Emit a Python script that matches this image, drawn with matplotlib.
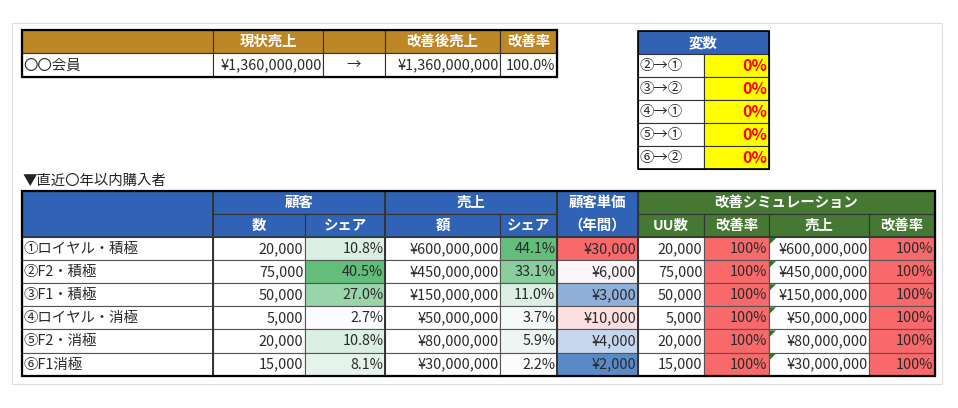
import matplotlib.pyplot as plt
from matplotlib.patches import Rectangle, Polygon
from matplotlib.colors import LinearSegmentedColormap, Normalize

plt.rcParams['font.family'] = ['Noto Sans CJK JP', 'DejaVu Sans']

# ---- data ----
top_label = '〇〇会員'
top_cols = ['現状売上', '', '改善後売上', '改善率']
current_sales = 1360000000
improved_sales = 1360000000
improve_rate = 100.0

var_labels = ['②→①', '③→②', '④→①', '⑤→①', '⑥→②']
var_values = [0, 0, 0, 0, 0]

segments = ['①ロイヤル・積極', '②F2・積極', '③F1・積極', '④ロイヤル・消極', '⑤F2・消極', '⑥F1消極']
customers = [20000, 75000, 50000, 5000, 20000, 15000]
customer_share = [10.8, 40.5, 27.0, 2.7, 10.8, 8.1]
sales = [600000000, 450000000, 150000000, 50000000, 80000000, 30000000]
sales_share = [44.1, 33.1, 11.0, 3.7, 5.9, 2.2]
unit_price = [30000, 6000, 3000, 10000, 4000, 2000]
sim_uu = [20000, 75000, 50000, 5000, 20000, 15000]
sim_rate = [100, 100, 100, 100, 100, 100]
sim_sales = [600000000, 450000000, 150000000, 50000000, 80000000, 30000000]
sim_sales_rate = [100, 100, 100, 100, 100, 100]

# ---- colours ----
GOLD = '#BD8727'
BLUE = '#3063B5'
GREEN = '#457832'
RED = '#F8696B'
YELLOW = '#FFFF00'
green_scale = LinearSegmentedColormap.from_list('g', ['#FCFCFF', '#63BE7B'])
price_scale = LinearSegmentedColormap.from_list('p', ['#5A8AC6', '#FCFCFF', '#F8696B'])

fig = plt.figure(figsize=(9.58, 4.08), dpi=100)
ax = fig.add_axes([0, 0, 1, 1])
ax.set_xlim(0, 958)
ax.set_ylim(408, 0)
ax.axis('off')

FS = 10.4


def cell(x0, x1, y0, y1, fc='white', text='', ha='right', color='#2A2A2A',
         weight='normal', ec='#555555', lw=0.8, size=FS):
    ax.add_patch(Rectangle((x0, y0), x1 - x0, y1 - y0, facecolor=fc,
                           edgecolor=ec, linewidth=lw))
    if text:
        if ha == 'right':
            tx = x1 - 1.5
        elif ha == 'left':
            tx = x0 + 1.5
        else:
            tx = (x0 + x1) / 2
        ax.text(tx, (y0 + y1) / 2 + 0.5, text, ha=ha, va='center',
                color=color, fontsize=size, fontweight=weight)


def yen(v):
    return '¥{:,}'.format(v)


def border(x0, x1, y0, y1, lw=1.6):
    ax.add_patch(Rectangle((x0, y0), x1 - x0, y1 - y0, fill=False,
                           edgecolor='black', linewidth=lw, zorder=5))


# faint frame
ax.add_patch(Rectangle((12, 23), 930, 361, fill=False, edgecolor='#DDDDDD', linewidth=0.8))

# ---- top table ----
tx = [22, 213, 323, 385, 500, 557]
ty = [30, 53, 77]
cell(tx[0], tx[1], ty[0], ty[1], GOLD, ec='#333333')
for i, c in enumerate(top_cols):
    cell(tx[i + 1], tx[i + 2], ty[0], ty[1], GOLD, c, ha='center', color='white',
         weight='bold', ec='#333333')
row = [(top_label, 'left'), (yen(current_sales), 'right'), ('→', 'center'),
       (yen(improved_sales), 'right'), ('{:.1f}%'.format(improve_rate), 'right')]
for i, (t, h) in enumerate(row):
    cell(tx[i], tx[i + 1], ty[1], ty[2], 'white', t, ha=h, ec='#333333')
border(tx[0], tx[-1], ty[0], ty[-1])

# ---- variable table ----
vx = [638, 704, 769]
vy0 = 31
cell(vx[0], vx[2], vy0, vy0 + 23, BLUE, '変数', ha='center', color='white',
     weight='bold', ec='#333333')
for i, (lab, v) in enumerate(zip(var_labels, var_values)):
    y0 = vy0 + 23 * (i + 1)
    cell(vx[0], vx[1], y0, y0 + 23, 'white', lab, ha='left', ec='#333333')
    cell(vx[1], vx[2], y0, y0 + 23, YELLOW, '{}%'.format(v), color='#FF0000',
         weight='bold', ec='#333333', size=11.5)
border(vx[0], vx[2], vy0, vy0 + 23 * 6, lw=1.2)

# ---- main table ----
ax.text(23, 181, '▼直近〇年以内購入者', ha='left', va='center', fontsize=FS, color='#222222')

mx = [22, 213, 305, 385, 500, 557, 638, 704, 769, 869, 935]
h0, h1, h2 = 191, 214, 237
rh = 23.1

cell(mx[0], mx[1], h0, h2, BLUE, ec='#333333')
cell(mx[1], mx[3], h0, h1, BLUE, '顧客', ha='center', color='white', weight='bold', ec='#333333')
cell(mx[3], mx[5], h0, h1, BLUE, '売上', ha='center', color='white', weight='bold', ec='#333333')
cell(mx[5], mx[6], h0, h2, BLUE, ec='#333333')
ax.text((mx[5] + mx[6]) / 2, (h0 + h1) / 2 + 0.5, '顧客単価', ha='center', va='center',
        color='white', fontsize=FS, fontweight='bold')
ax.text((mx[5] + mx[6]) / 2, (h1 + h2) / 2 + 0.5, '（年間）', ha='center', va='center',
        color='white', fontsize=FS, fontweight='bold')
cell(mx[6], mx[10], h0, h1, GREEN, '改善シミュレーション', ha='center', color='white',
     weight='bold', ec='#333333')
sub = ['数', 'シェア', '額', 'シェア']
for i, s in enumerate(sub):
    cell(mx[i + 1], mx[i + 2], h1, h2, BLUE, s, ha='center', color='white',
         weight='bold', ec='#333333')
sim_sub = ['UU数', '改善率', '売上', '改善率']
for i, s in enumerate(sim_sub):
    cell(mx[i + 6], mx[i + 7], h1, h2, GREEN, s, ha='center', color='white',
         weight='bold', ec='#333333')

cs_norm = Normalize(min(customer_share), max(customer_share))
ss_norm = Normalize(min(sales_share), max(sales_share))
lo, mid, hi = min(unit_price), sorted(unit_price)[2:4], max(unit_price)
med = sum(mid) / 2


def price_pos(v):
    if v <= med:
        return 0.5 * (v - lo) / (med - lo)
    return 0.5 + 0.5 * (v - med) / (hi - med)


for r in range(len(segments)):
    y0 = h2 + rh * r
    y1 = y0 + rh
    cell(mx[0], mx[1], y0, y1, 'white', segments[r], ha='left')
    cell(mx[1], mx[2], y0, y1, 'white', '{:,}'.format(customers[r]))
    cell(mx[2], mx[3], y0, y1, green_scale(cs_norm(customer_share[r])),
         '{:.1f}%'.format(customer_share[r]))
    cell(mx[3], mx[4], y0, y1, 'white', yen(sales[r]))
    cell(mx[4], mx[5], y0, y1, green_scale(ss_norm(sales_share[r])),
         '{:.1f}%'.format(sales_share[r]))
    cell(mx[5], mx[6], y0, y1, price_scale(price_pos(unit_price[r])), yen(unit_price[r]))
    cell(mx[6], mx[7], y0, y1, 'white', '{:,}'.format(sim_uu[r]))
    cell(mx[7], mx[8], y0, y1, RED, '{}%'.format(sim_rate[r]))
    cell(mx[8], mx[9], y0, y1, 'white', yen(sim_sales[r]))
    ax.add_patch(Polygon([(mx[8] + 1, y0 + 1), (mx[8] + 7, y0 + 1), (mx[8] + 1, y0 + 7)],
                         closed=True, facecolor='#1E7B30', edgecolor='none', zorder=4))
    cell(mx[9], mx[10], y0, y1, RED, '{}%'.format(sim_sales_rate[r]))

bottom = h2 + rh * len(segments)
for xv in [mx[1], mx[3], mx[5], mx[6]]:
    ax.plot([xv, xv], [h0, bottom], color='#333333', linewidth=1.4, zorder=4)
ax.plot([mx[0], mx[-1]], [h2, h2], color='#333333', linewidth=1.2, zorder=4)
border(mx[0], mx[-1], h0, bottom)

fig.savefig('out.png', dpi=100)
